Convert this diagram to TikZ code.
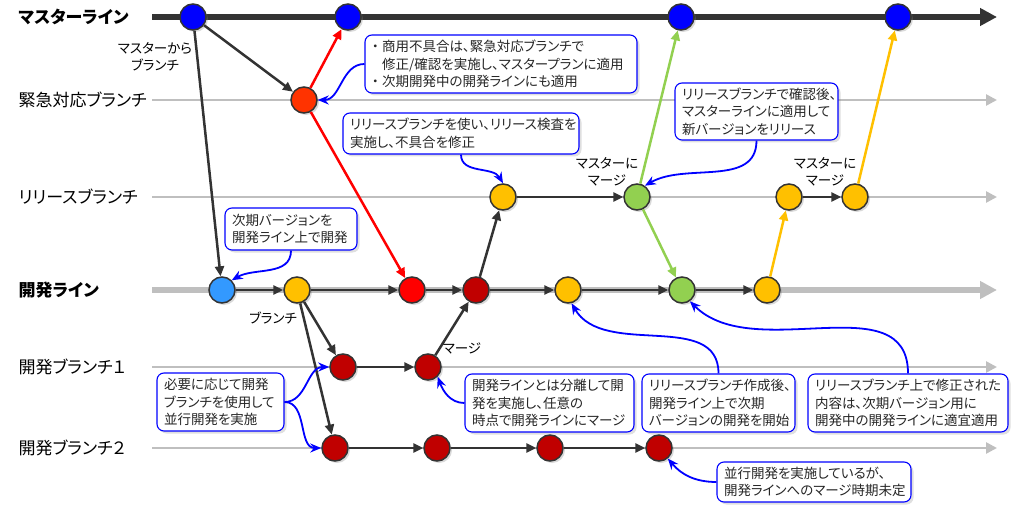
\documentclass[tikz,border=0pt]{standalone}
\usepackage{fontspec}
\setmainfont{Noto Sans CJK JP}[RawFeature=+palt]
\usetikzlibrary{arrows.meta,shadows}
\definecolor{dk}{HTML}{333333}
\definecolor{lg}{HTML}{BFBFBF}
\definecolor{txt}{HTML}{262626}
\definecolor{cblue}{HTML}{0000FF}
\definecolor{cemg}{HTML}{FF3300}
\definecolor{cyel}{HTML}{FFC000}
\definecolor{cgrn}{HTML}{92D050}
\definecolor{clbl}{HTML}{3399FF}
\definecolor{cred}{HTML}{FF0000}
\definecolor{cdrd}{HTML}{C00000}
\begin{document}
\begin{tikzpicture}[x=1pt,y=1pt,
  commit/.style={circle, draw=dk, line width=1.5pt, minimum size=26pt, inner sep=0pt,
    drop shadow={opacity=0.3, shadow xshift=2pt, shadow yshift=-2pt}},
  call/.style={draw=cblue, line width=1.1pt, fill=white, rounded corners=7pt, align=left,
    inner xsep=7pt, inner ysep=2pt, font=\fontsize{13.5}{17.5}\selectfont, text=txt,
    drop shadow={opacity=0.25, shadow xshift=2.5pt, shadow yshift=-2.5pt}},
  lane/.style={line width=2.5pt, draw=lg, -{Triangle[length=11pt,width=11pt]}},
  mainlane/.style={line width=5.5pt, -{Triangle[length=17pt,width=17pt]}},
  flow/.style={line width=2.5pt, draw=dk, -{Triangle[length=10pt,width=9pt]}},
  note/.style={line width=1.8pt, draw=cblue, -{Stealth[length=11pt,width=9pt]}},
  lbl/.style={anchor=west, text=black, font=\fontsize{17}{20}\selectfont},
  small/.style={align=center, text=black, font=\fontsize{13.5}{17}\selectfont}
]
\useasboundingbox (0,0) rectangle (1024,520);

% lane coordinates
\coordinate (ms) at (152,503); \coordinate (me) at (997,503);
\coordinate (es) at (152,420); \coordinate (ee) at (997,420);
\coordinate (rs) at (152,323); \coordinate (re) at (997,323);
\coordinate (ds) at (152,230); \coordinate (de) at (997,230);
\coordinate (bs) at (152,153); \coordinate (be) at (997,153);
\coordinate (cs) at (152,72);  \coordinate (ce) at (997,72);

\draw[lane] (es) -- (ee);
\draw[lane] (rs) -- (re);
\draw[lane] (bs) -- (be);
\draw[lane] (cs) -- (ce);
\draw[mainlane, draw=lg] (ds) -- (de);
\draw[mainlane, draw=dk] (ms) -- (me);

% lane labels
\node[lbl, font=\fontsize{17}{20}\selectfont\bfseries] (lm) at (15,503) {マスターライン};
\node[lbl] (le) at (15,420) {緊急対応ブランチ};
\node[lbl] (lr) at (15,323) {リリースブランチ};
\node[lbl, font=\fontsize{17}{20}\selectfont\bfseries] (ld) at (15,230) {開発ライン};
\node[lbl] (lb) at (15,153) {開発ブランチ１};
\node[lbl] (lc) at (15,72) {開発ブランチ２};

% commits
\node[commit, fill=cblue] (m1) at (193,503) {};
\node[commit, fill=cblue] (m2) at (348,503) {};
\node[commit, fill=cblue] (m3) at (681,503) {};
\node[commit, fill=cblue] (m4) at (898,503) {};
\node[commit, fill=cemg] (e1) at (304,420) {};
\node[commit, fill=cyel] (r1) at (503,323) {};
\node[commit, fill=cgrn] (r2) at (637,323) {};
\node[commit, fill=cyel] (r3) at (789,323) {};
\node[commit, fill=cyel] (r4) at (855,323) {};
\node[commit, fill=clbl] (d1) at (222,230) {};
\node[commit, fill=cyel] (d2) at (297,230) {};
\node[commit, fill=cred] (d3) at (412,230) {};
\node[commit, fill=cdrd] (d4) at (476,230) {};
\node[commit, fill=cyel] (d5) at (568,230) {};
\node[commit, fill=cgrn] (d6) at (682,230) {};
\node[commit, fill=cyel] (d7) at (767,230) {};
\node[commit, fill=cdrd] (b1) at (343,153) {};
\node[commit, fill=cdrd] (b2) at (428,153) {};
\node[commit, fill=cdrd] (c1) at (335,72) {};
\node[commit, fill=cdrd] (c2) at (437,72) {};
\node[commit, fill=cdrd] (c3) at (550,72) {};
\node[commit, fill=cdrd] (c4) at (659,72) {};

% flows
\draw[flow] (m1) -- (d1);
\draw[flow] (m1) -- (e1);
\draw[flow, draw=cred] (e1) -- (m2);
\draw[flow, draw=cred] (e1) -- (d3);
\draw[flow] (d1) -- (d2);
\draw[flow] (d2) -- (d3);
\draw[flow] (d3) -- (d4);
\draw[flow] (d4) -- (d5);
\draw[flow] (d5) -- (d6);
\draw[flow] (d6) -- (d7);
\draw[flow] (d4) -- (r1);
\draw[flow] (r1) -- (r2);
\draw[flow, draw=cgrn] (r2) -- (m3);
\draw[flow, draw=cgrn] (r2) -- (d6);
\draw[flow, draw=cyel] (d7) -- (r3);
\draw[flow] (r3) -- (r4);
\draw[flow, draw=cyel] (r4) -- (m4);
\draw[flow] (d2) -- (b1);
\draw[flow] (d2) -- (c1);
\draw[flow] (b1) -- (b2);
\draw[flow] (b2) -- (d4);
\draw[flow] (c1) -- (c2);
\draw[flow] (c2) -- (c3);
\draw[flow] (c3) -- (c4);

% small labels
\node[small] (t1) at (155,463) {マスターから\\ブランチ};
\node[small] (t2) at (273,202) {ブランチ};
\node[small] (t3) at (462,172) {マージ};
\node[small] (t4) at (607,348) {マスターに\\マージ};
\node[small] (t5) at (825,348) {マスターに\\マージ};

% callouts
\node[call, text width=258pt, minimum height=58pt] (n1) at (501,456)
  {\makebox[10pt][l]{・}商用不具合は、緊急対応ブランチで\\\hspace*{10pt}修正/確認を実施し、マスタープランに適用\\\makebox[10pt][l]{・}次期開発中の開発ラインにも適用};
\node[call, text width=222pt, minimum height=41pt] (n2) at (461,386.5)
  {リリースブランチを使い、リリース検査を\\実施し、不具合を修正};
\node[call, text width=149pt, minimum height=57pt] (n3) at (756.5,408.5)
  {リリースブランチで確認後、\\マスターラインに適用して\\新バージョンをリリース};
\node[call, text width=118pt, minimum height=42pt] (n4) at (291,291)
  {次期バージョンを\\開発ライン上で開発};
\node[call, text width=113pt, minimum height=58pt] (n5) at (220.5,118)
  {必要に応じて開発\\ブランチを使用して\\並行開発を実施};
\node[call, text width=155pt, minimum height=58pt] (n6) at (549.5,117)
  {開発ラインとは分離して開\\発を実施し、任意の\\時点で開発ラインにマージ};
\node[call, text width=139pt, minimum height=58pt] (n7) at (718.5,117)
  {リリースブランチ作成後、\\開発ライン上で次期\\バージョンの開発を開始};
\node[call, text width=186pt, minimum height=58pt] (n8) at (908,117)
  {リリースブランチ上で修正された\\内容は、次期バージョン用に\\開発中の開発ラインに適宜適用};
\node[call, text width=180pt, minimum height=40pt] (n9) at (814,38)
  {並行開発を実施しているが、\\開発ラインへのマージ時期未定};

% callout pointers
\draw[note] (n1.west) to[out=180,in=0] (e1.east);
\draw[note] (n2.south) to[out=-90,in=120] (r1.north);
\draw[note] (n3.south) to[out=-90,in=30] (r2.55);
\draw[note] (n4.south) to[out=-90,in=30] (d1.45);
\draw[note] (n5.east) to[out=0,in=180] (b1.west);
\draw[note] (n5.east) to[out=0,in=180] (c1.west);
\draw[note] (n6.west) to[out=180,in=-70] (b2.-45);
\draw[note] (n7.north) to[out=90,in=-60] (d5.-75);
\draw[note] (n8.north) to[out=90,in=-45] (d6.-55);
\draw[note] (n9.west) to[out=180,in=-50] (c4.-50);
\end{tikzpicture}
\end{document}
